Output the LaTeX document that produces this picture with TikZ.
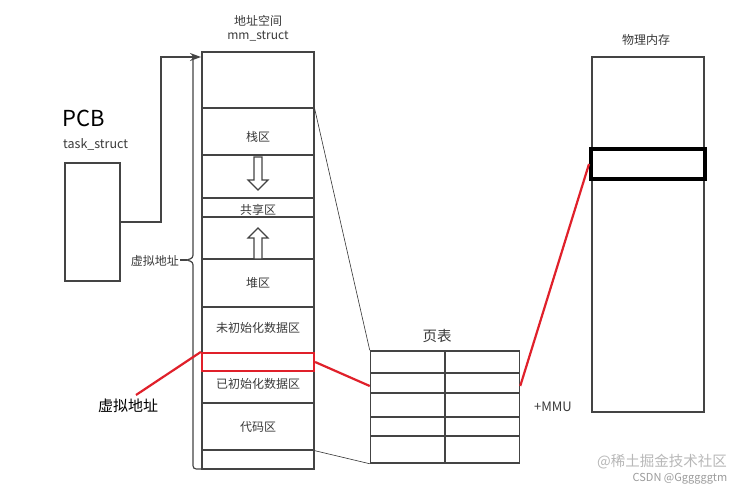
\documentclass[tikz,border=0pt]{standalone}
\usepackage{fontspec}
\setmainfont{Noto Sans CJK SC}
\usetikzlibrary{arrows.meta}
\definecolor{boxgray}{HTML}{444444}
\definecolor{txtgray}{HTML}{3A3A3A}
\definecolor{myred}{HTML}{E0202A}
\definecolor{wmgray}{HTML}{B8B8B8}
\tikzset{
  cell/.style={draw=boxgray, line width=1.3pt, inner sep=0pt, minimum width=112, fill=white},
  ptcell/.style={draw=boxgray, line width=1.5pt, inner sep=0pt, minimum width=74.5},
  lbl/.style={text=txtgray, inner sep=0pt, font=\fontsize{12}{14}\selectfont},
  thinline/.style={draw=black!80, line width=0.6pt},
  redline/.style={draw=myred, line width=2.2pt},
  hollowarrow/.style={draw=boxgray, line width=1.1pt, fill=white}
}
\begin{document}
\begin{tikzpicture}[x=1pt,y=-1pt]
\useasboundingbox (0,0) rectangle (748,489);
\fill[white] (0,0) rectangle (748,489);

% titles
\node[lbl] (t1) at (258,21) {地址空间};
\node[lbl] (t2) at (258,36) {mm\_struct};
\node[inner sep=0pt, font=\fontsize{22}{24}\selectfont, text=black] (pcbt) at (84,118) {PCB};
\node[lbl, anchor=west, font=\fontsize{12.5}{14}\selectfont] (tks) at (63,144) {task\_struct};

% PCB box
\node[draw=boxgray, line width=1.3pt, inner sep=0pt, minimum width=55, minimum height=118] (pcb) at (92.5,222) {};

% brace / left line
\draw[boxgray, line width=1.2pt] (193,57) -- (193,252) .. controls (193,258) .. (187,260) .. controls (193,262) .. (193,268) -- (193,462) .. controls (193,469) .. (200,469) -- (202,469);
\coordinate (bracetip) at (187,260);
\draw[boxgray, line width=1.2pt] (180,260) -- (bracetip);
\node[lbl, anchor=east] (vlabel) at (179,261) {虚拟地址};

% address space cells
\node[cell, minimum height=56] (a0) at (258,80) {};
\node[cell, minimum height=47] (a1) at (258,131.5) {};
\node[cell, minimum height=43] (a2) at (258,176.5) {};
\node[cell, minimum height=19] (a3) at (258,207.5) {};
\node[cell, minimum height=42] (a4) at (258,238) {};
\node[cell, minimum height=48] (a5) at (258,283) {};
\node[cell, minimum height=46] (a6) at (258,330) {};
\node[cell, minimum height=32] (a7) at (258,387) {};
\node[cell, minimum height=47] (a8) at (258,426.5) {};
\node[cell, minimum height=19] (a9) at (258,459.5) {};
\node[draw=myred, line width=2.2pt, inner sep=0pt, minimum width=112, minimum height=18] (rb) at (258,362) {};

\node[lbl] (l1) at (258,137) {栈区};
\node[lbl] (l3) at (258,210) {共享区};
\node[lbl] (l5) at (258,283) {堆区};
\node[lbl] (l6) at (258,328) {未初始化数据区};
\node[lbl] (l7) at (258,384) {已初始化数据区};
\node[lbl] (l8) at (258,427) {代码区};

% hollow arrows
\draw[hollowarrow] (254,157) -- (262,157) -- (262,180) -- (268,180) -- (258,190) -- (248,180) -- (254,180) -- cycle;
\draw[hollowarrow] (254,259) -- (262,259) -- (262,238) -- (268,238) -- (258,228) -- (248,238) -- (254,238) -- cycle;

% PCB arrow
\coordinate (pcbbend) at (161,57);
\coordinate (asentry) at (201,57);
\draw[boxgray, line width=1.3pt, -{Stealth[length=11pt,width=8pt]}] (pcb.east) -| (pcbbend) -- (asentry);

% page table
\node[lbl, font=\fontsize{14.5}{16}\selectfont] (ptt) at (437,336) {页表};
\node[ptcell, minimum height=22] (p1a) at (407.75,362) {};
\node[ptcell, minimum height=22] (p1b) at (482.25,362) {};
\node[ptcell, minimum height=20] (p2a) at (407.75,383) {};
\node[ptcell, minimum height=20] (p2b) at (482.25,383) {};
\node[ptcell, minimum height=24] (p3a) at (407.75,405) {};
\node[ptcell, minimum height=24] (p3b) at (482.25,405) {};
\node[ptcell, minimum height=19] (p4a) at (407.75,426.5) {};
\node[ptcell, minimum height=19] (p4b) at (482.25,426.5) {};
\node[ptcell, minimum height=27] (p5a) at (407.75,449.5) {};
\node[ptcell, minimum height=27] (p5b) at (482.25,449.5) {};
\node[lbl, font=\fontsize{13}{15}\selectfont] (mmu) at (553,407) {+MMU};

% physical memory
\node[lbl] (pmt) at (646,40) {物理内存};
\node[draw=boxgray, line width=1.3pt, inner sep=0pt, minimum width=112, minimum height=355] (pm) at (648,234.5) {};
\node[draw=black, line width=4pt, inner sep=0pt, minimum width=114, minimum height=30] (hl) at (648,164) {};

% connectors
\draw[thinline] (a0.south east) -- (p1a.north west);
\draw[thinline] (a8.south east) -- (p5a.south west);
\draw[redline] (rb.east) -- ([yshift=-3]p2a.west);
\draw[redline] ([yshift=-3]p2b.east) -- (hl.west);
\node[inner sep=0pt, font=\fontsize{15}{17}\selectfont, text=black] (vaddr) at (128,406) {虚拟地址};
\coordinate (vaddrtip) at (136,395);
\draw[redline] (vaddrtip) -- (rb.north west);

% watermark
\node[inner sep=0pt, text=wmgray, font=\fontsize{14.5}{16}\selectfont] (wm1) at (662,462) {@稀土掘金技术社区};
\node[inner sep=0pt, text=wmgray!85!black, font=\fontsize{11}{13}\selectfont] (wm2) at (680,479) {CSDN @Ggggggtm};
\end{tikzpicture}
\end{document}
